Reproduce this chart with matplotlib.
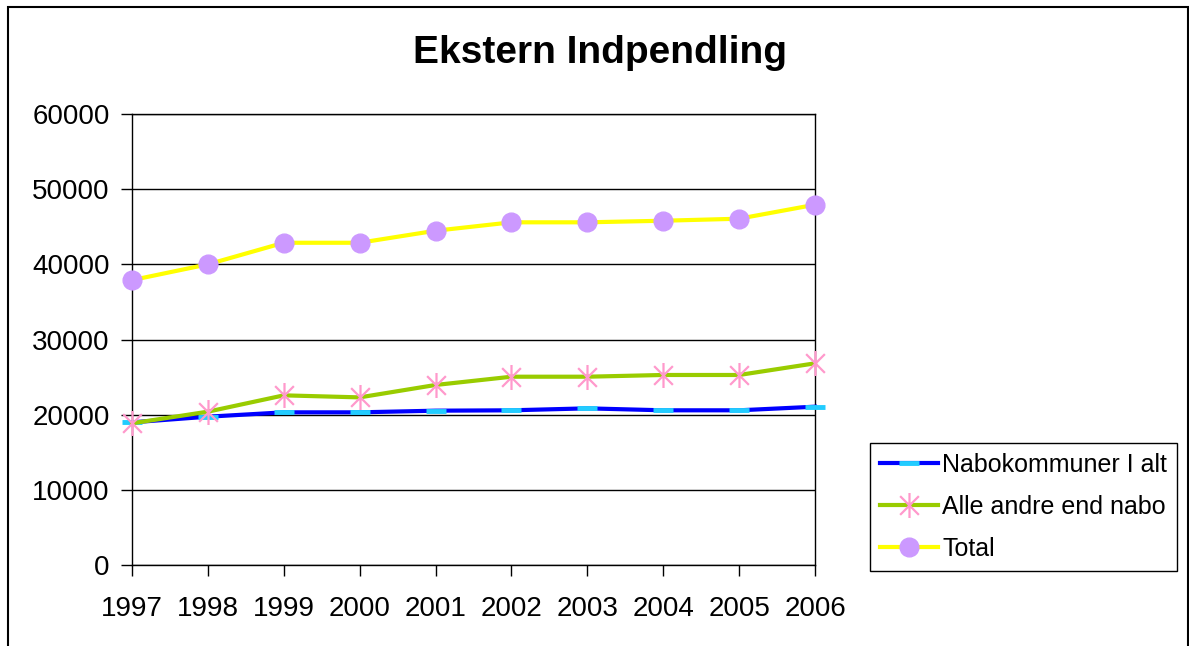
import matplotlib as mpl
mpl.use('Agg')
import matplotlib.pyplot as plt
from matplotlib.path import Path
from matplotlib.patches import Rectangle

plt.rcParams['font.family'] = ['Liberation Sans', 'DejaVu Sans']

# data
years = [1997, 1998, 1999, 2000, 2001, 2002, 2003, 2004, 2005, 2006]
nabo = [18980, 19730, 20310, 20310, 20530, 20580, 20840, 20580, 20580, 21060]
alle_andre = [18850, 20400, 22570, 22300, 23950, 25050, 25050, 25280, 25280, 26830]
total = [37900, 40000, 42870, 42870, 44470, 45590, 45590, 45800, 46070, 47930]
y_ticks = [0, 10000, 20000, 30000, 40000, 50000, 60000]

title = 'Ekstern Indpendling'
labels = ['Nabokommuner I alt', 'Alle andre end nabo', 'Total']

# excel style asterisk: vertical bar plus an X
asterisk = Path([(0, -1), (0, 1), (-0.75, -0.75), (0.75, 0.75),
                 (-0.75, 0.75), (0.75, -0.75)],
                [Path.MOVETO, Path.LINETO, Path.MOVETO, Path.LINETO,
                 Path.MOVETO, Path.LINETO])

W, H = 1189, 646
fig = plt.figure(figsize=(W / 100, H / 100), dpi=100)
ax = fig.add_axes([132 / W, 1 - 565 / H, (815 - 132) / W, (565 - 114) / H])

# series
ax.plot(years, nabo, color='#0000FF', lw=3, marker='_', ms=14, mew=3.5,
        mec='#22CCFF', label=labels[0], clip_on=False, zorder=3)
ax.plot(years, alle_andre, color='#99CC00', lw=3, marker=asterisk, ms=18,
        mew=1.6, mec='#FF99CC', mfc='none', label=labels[1], clip_on=False,
        zorder=4)
ax.plot(years, total, color='#FFFF00', lw=3, marker='o', ms=13.5,
        mec='#CC99FF', mfc='#CC99FF', label=labels[2], clip_on=False,
        zorder=5)

# axes
ax.set_xlim(years[0], years[-1])
ax.set_ylim(0, 60000)
ax.set_xticks(years)
ax.set_xticklabels([str(y) for y in years])
ax.set_yticks(y_ticks)
ax.set_yticklabels([str(v) for v in y_ticks])
ax.tick_params(axis='both', direction='out', length=8, width=1,
               labelsize=20, colors='black')
ax.tick_params(axis='y', pad=8)
ax.tick_params(axis='x', pad=14)
ax.grid(True, axis='y', color='black', lw=1)
ax.set_axisbelow(True)
for s in ax.spines.values():
    s.set_color('black')
    s.set_linewidth(1)

# title
fig.text(600 / W, 1 - 53 / H, title, fontsize=28, fontweight='bold',
         ha='center', va='center')

# legend
leg = ax.legend(loc='upper left', bbox_to_anchor=(870 / W, 1 - 443 / H),
                bbox_transform=fig.transFigure, fontsize=18, numpoints=1,
                handlelength=2.3, handletextpad=0.2, borderpad=0.4,
                labelspacing=0.72, fancybox=False, framealpha=1,
                edgecolor='black', borderaxespad=0)
leg.get_frame().set_linewidth(1)

# chart area border
fig.patches.append(Rectangle((8 / W, -0.1), (1187.5 - 8) / W, 1.1 - 7 / H,
                             transform=fig.transFigure, fill=False,
                             edgecolor='black', lw=1.5, clip_on=False))

fig.savefig('out.png', dpi=100)
